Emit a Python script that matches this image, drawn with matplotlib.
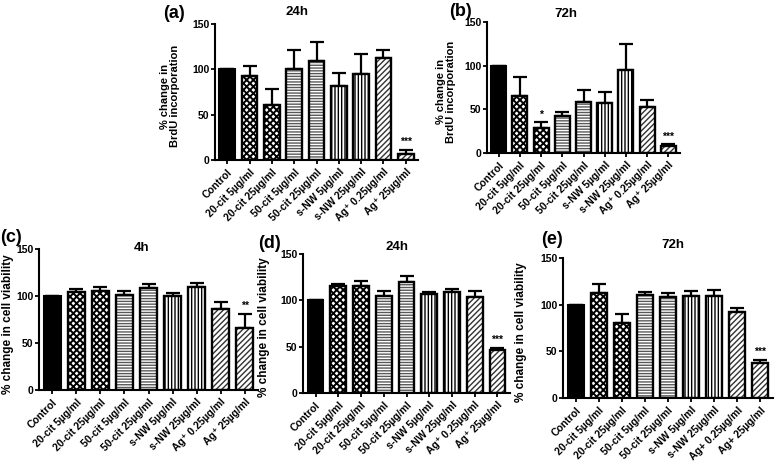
import matplotlib
matplotlib.use('Agg')
import matplotlib.pyplot as plt
import numpy as np

plt.rcParams['font.family'] = ['Liberation Sans', 'DejaVu Sans']
plt.rcParams['font.weight'] = 'bold'

labels_sup = ['Control', '20-cit 5µg/ml', '20-cit 25µg/ml', '50-cit 5µg/ml',
              '50-cit 25µg/ml', 's-NW 5µg/ml', 's-NW 25µg/ml',
              'Ag⁺ 0.25µg/ml', 'Ag⁺ 25µg/ml']
labels_plain = ['Control', '20-cit 5µg/ml', '20-cit 25µg/ml', '50-cit 5µg/ml',
                '50-cit 25µg/ml', 's-NW 5µg/ml', 's-NW 25µg/ml',
                'Ag+ 0.25µg/ml', 'Ag+ 25µg/ml']

# BrdU incorporation (mean, top of error bar)
brdu_24h = [100, 93, 61, 100, 109, 82, 95, 113, 7]
brdu_24h_top = [100, 104, 78, 121, 130, 96, 117, 121, 11]
brdu_72h = [100, 65, 29, 42, 58, 57, 95, 53, 8]
brdu_72h_top = [100, 87, 35, 47, 72, 70, 125, 61, 10]

# cell viability
via_4h = [100, 104, 105, 101, 108, 100, 110, 86, 66]
via_4h_top = [100, 107, 110, 105, 113, 103, 114, 94, 81]
via_24h = [100, 115, 116, 105, 120, 107, 109, 104, 46]
via_24h_top = [100, 118, 121, 110, 126, 109, 112, 110, 49]
via_72h = [100, 113, 80, 110, 108, 109, 109, 92, 38]
via_72h_top = [100, 122, 90, 114, 112, 115, 116, 96, 41]

stars_a = {8: '***'}
stars_b = {2: '*', 8: '***'}
stars_c = {8: '**'}
stars_d = {8: '***'}
stars_e = {8: '***'}

# hatch, hatch colour, hatch linewidth per group
hatches = [None, 'xxxxx', 'xxxxx', '------', '------', '|||||', '|||||', '//////', '//////']
hcolors = ['black', 'black', 'black', '0.35', '0.35', 'black', 'black', '0.2', '0.2']
hlws = [1, 1.4, 1.4, 1.0, 1.0, 1.0, 1.0, 1.0, 1.0]

W, H = 779, 467
fig = plt.figure(figsize=(W / 100, H / 100), dpi=100)


def px_axes(left, right, top, bottom):
    return fig.add_axes([left / W, 1 - bottom / H, (right - left) / W, (bottom - top) / H])


def draw(ax, vals, tops, labels, ylabel, stars, ylab_x, ylab_size):
    x = np.arange(len(vals))
    vals = np.array(vals)
    tops = np.array(tops)
    for i in x:
        if hatches[i] is None:
            ax.bar(i, vals[i], width=0.7, color='black', edgecolor='black', linewidth=1.5, zorder=2)
        else:
            with plt.rc_context({'hatch.linewidth': hlws[i]}):
                ax.bar(i, vals[i], width=0.7, color='white', edgecolor=hcolors[i],
                       hatch=hatches[i], linewidth=0, zorder=2)
            ax.bar(i, vals[i], width=0.7, fill=False, edgecolor='black', linewidth=1.7, zorder=3)
    err = tops - vals
    ax.errorbar(x, vals, yerr=[np.zeros_like(err), err], fmt='none', ecolor='black',
                elinewidth=1.6, capsize=5, capthick=1.6, zorder=1)
    for i, s in stars.items():
        ax.text(i, tops[i] + 3, s, ha='center', va='bottom', fontsize=7.5, fontweight='bold')
    ax.set_xlim(-0.55, 8.55)
    ax.set_ylim(0, 150)
    ax.set_yticks([0, 50, 100, 150])
    ax.set_xticks(x)
    ax.set_xticklabels(labels, rotation=45, ha='right', rotation_mode='anchor', fontsize=7.5)
    ax.tick_params(axis='y', labelsize=7.5, width=1.3, length=3, pad=1)
    ax.tick_params(axis='x', width=1.3, length=3, pad=2)
    for side in ['top', 'right']:
        ax.spines[side].set_visible(False)
    for side in ['left', 'bottom']:
        ax.spines[side].set_linewidth(1.5)
    ax.set_ylabel(ylabel, fontsize=ylab_size, fontweight='bold', linespacing=1.0)
    ax.yaxis.set_label_coords(ylab_x, 0.47)


ax_a = px_axes(215, 418, 24, 160)
draw(ax_a, brdu_24h, brdu_24h_top, labels_sup, '% change in\nBrdU incorporation', stars_a, -0.17, 8)
ax_b = px_axes(487, 680, 22, 153)
draw(ax_b, brdu_72h, brdu_72h_top, labels_sup, '% change in\nBrdU incorporation', stars_b, -0.16, 8)
ax_c = px_axes(39, 258, 249, 390)
draw(ax_c, via_4h, via_4h_top, labels_sup, '% change in cell viability', stars_c, -0.115, 8.5)
ax_d = px_axes(303, 510, 254, 393)
draw(ax_d, via_24h, via_24h_top, labels_sup, '% change in cell viability', stars_d, -0.16, 8.5)
ax_e = px_axes(563, 773, 258, 398)
draw(ax_e, via_72h, via_72h_top, labels_plain, '% change in cell viability', stars_e, -0.17, 8.5)

# panel letters and titles
for letter, px, py in [('(a)', 163, 13), ('(b)', 449, 11), ('(c)', 0, 238),
                       ('(d)', 258, 244), ('(e)', 541, 240)]:
    fig.text(px / W, 1 - py / H, letter, fontsize=13, fontweight='bold', va='center', ha='left')
for title, px, py in [('24h', 297, 12), ('72h', 566, 14), ('4h', 142, 248),
                      ('24h', 397, 247), ('72h', 673, 245)]:
    fig.text(px / W, 1 - py / H, title, fontsize=9.5, fontweight='bold', va='center', ha='center')

fig.savefig('out.png', dpi=100)
